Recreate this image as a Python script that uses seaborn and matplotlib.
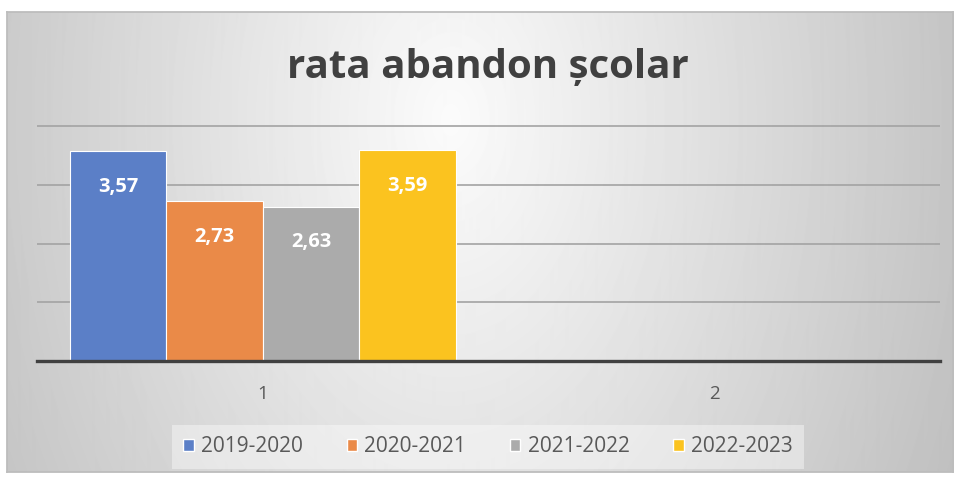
import numpy as np
import pandas as pd
import seaborn as sns
import matplotlib.pyplot as plt
from matplotlib.patches import Patch

categories = ["1", "2"]
years = ["2019-2020", "2020-2021", "2021-2022", "2022-2023"]
rates = [3.57, 2.73, 2.63, 3.59]
colors = ["#5B7FC7", "#EA8A48", "#ABABAB", "#FBC31F"]

df = pd.DataFrame({"categorie": ["1"] * len(years), "an": years, "rata": rates})

sns.set_style("white")
plt.rcParams["font.family"] = ["Open Sans", "DejaVu Sans"]

fig = plt.figure(figsize=(9.6, 4.79), dpi=100)

# excel-like chart area with a soft radial gradient
bg = fig.add_axes([7 / 960, 7 / 479, 946 / 960, 460 / 479], zorder=0)
yy, xx = np.mgrid[0:460, 0:946]
d = np.sqrt(((xx - 443) / 520) ** 2 + ((yy - 108) / 800) ** 2)
shade = np.clip(0.985 - 0.22 * d, 0, 1)
bg.imshow(shade, cmap="gray", vmin=0, vmax=1, aspect="auto", interpolation="bilinear")
bg.set_xticks([])
bg.set_yticks([])
for s in bg.spines.values():
    s.set_color("#bdbdbd")
    s.set_linewidth(1.3)

ax = fig.add_axes([37 / 960, 118 / 479, 903 / 960, 236 / 479], zorder=1)
ax.set_facecolor("none")

sns.barplot(data=df, x="categorie", y="rata", hue="an", order=categories,
            hue_order=years, palette=colors, saturation=1, width=0.855,
            edgecolor="white", linewidth=0.8, legend=False, ax=ax)

ax.set_ylim(0, 4.02)
ax.set_yticks([1, 2, 3, 4])
ax.yaxis.grid(True, color="#a3a3a3", linewidth=1.2)
ax.set_axisbelow(True)
ax.tick_params(axis="y", length=0, labelleft=False)
ax.tick_params(axis="x", length=0, pad=17, labelsize=13.5, labelcolor="#595959")
ax.set_xlabel("")
ax.set_ylabel("")
for side in ["left", "right", "top"]:
    ax.spines[side].set_visible(False)
ax.spines["bottom"].set_color("#404040")
ax.spines["bottom"].set_linewidth(2.4)

for cont in ax.containers:
    ax.bar_label(cont, labels=[f"{v:.2f}".replace(".", ",") for v in cont.datavalues],
                 padding=-33, color="white", fontsize=14.5, fontweight="bold")

fig.text(488 / 960, 1 - 68 / 479, "rata abandon școlar", ha="center", va="center",
         fontsize=29, fontweight="bold", color="#404040")

handles = [Patch(facecolor=c, label=y) for c, y in zip(colors, years)]
leg = fig.legend(handles=handles, loc="center", bbox_to_anchor=(488 / 960, 32 / 479),
                 ncol=4, fontsize=15, handlelength=0.5, handleheight=0.5,
                 handletextpad=0.35, columnspacing=2.1, labelcolor="#595959",
                 fancybox=False, borderpad=0.55)
leg.get_frame().set_facecolor("white")
leg.get_frame().set_alpha(0.4)
leg.get_frame().set_edgecolor("none")

fig.savefig("out.png", dpi=100)
